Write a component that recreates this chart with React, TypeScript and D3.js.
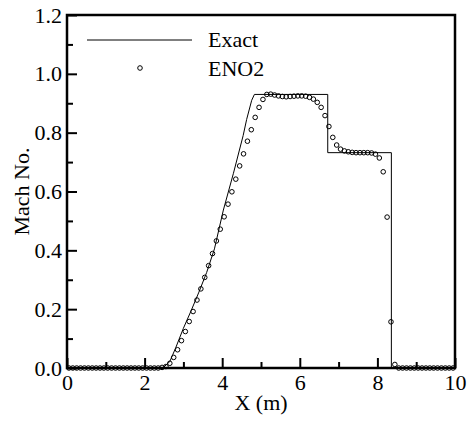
import React, { useEffect, useRef } from 'react';
import * as d3 from 'd3';

// exact solution (piecewise)
const exactX = [0, 2.47, 2.65, 2.8, 3.0, 3.2, 3.4, 3.6, 3.8, 4.03, 4.29, 4.54, 4.63, 4.76, 4.83, 6.72, 6.72, 8.36, 8.36, 10];
const exactM = [0, 0, 0.022, 0.068, 0.135, 0.195, 0.258, 0.325, 0.405, 0.537, 0.662, 0.79, 0.845, 0.91, 0.93, 0.93, 0.732, 0.732, 0, 0];

// ENO2 cell values
const eno2X = [
  0.05, 0.15, 0.25, 0.35, 0.45, 0.55, 0.65, 0.75, 0.85, 0.95,
  1.05, 1.15, 1.25, 1.35, 1.45, 1.55, 1.65, 1.75, 1.85, 1.95,
  2.05, 2.15, 2.25, 2.35, 2.45, 2.55, 2.65, 2.75, 2.85, 2.95,
  3.05, 3.15, 3.25, 3.35, 3.45, 3.55, 3.65, 3.75, 3.85, 3.95,
  4.05, 4.15, 4.25, 4.35, 4.45, 4.55, 4.65, 4.75, 4.85, 4.95,
  5.05, 5.15, 5.25, 5.35, 5.45, 5.55, 5.65, 5.75, 5.85, 5.95,
  6.05, 6.15, 6.25, 6.35, 6.45, 6.55, 6.65, 6.75, 6.85, 6.95,
  7.05, 7.15, 7.25, 7.35, 7.45, 7.55, 7.65, 7.75, 7.85, 7.95,
  8.05, 8.15, 8.25, 8.35, 8.45, 8.55, 8.65, 8.75, 8.85, 8.95,
  9.05, 9.15, 9.25, 9.35, 9.45, 9.55, 9.65, 9.75, 9.85, 9.95,
];
const eno2M = [
  0, 0, 0, 0, 0, 0, 0, 0, 0, 0,
  0, 0, 0, 0, 0, 0, 0, 0, 0, 0,
  0, 0, 0, 0, 0.002, 0.005, 0.016, 0.036, 0.062, 0.093,
  0.124, 0.158, 0.192, 0.231, 0.269, 0.308, 0.348, 0.389, 0.432, 0.472,
  0.514, 0.557, 0.599, 0.642, 0.687, 0.728, 0.771, 0.81, 0.852, 0.886,
  0.913, 0.93, 0.931, 0.928, 0.925, 0.923, 0.922, 0.923, 0.924, 0.925,
  0.925, 0.924, 0.92, 0.914, 0.903, 0.886, 0.858, 0.821, 0.784, 0.758,
  0.744, 0.738, 0.735, 0.733, 0.732, 0.732, 0.732, 0.732, 0.731, 0.727,
  0.714, 0.667, 0.513, 0.157, 0.012, 0, 0, 0, 0, 0,
  0, 0, 0, 0, 0, 0, 0, 0, 0, 0,
];

const xMajor = [0, 2, 4, 6, 8, 10];
const xMinor = [1, 3, 5, 7, 9];
const yMajor = [0, 0.2, 0.4, 0.6, 0.8, 1.0, 1.2];
const yMinor = [0.1, 0.3, 0.5, 0.7, 0.9, 1.1];

const FONT = 'Liberation Serif, Times New Roman, serif';

const MachChart = () => {
  const svgRef = useRef<SVGSVGElement | null>(null);

  useEffect(() => {
    const svg = d3.select(svgRef.current);
    svg.selectAll('*').remove();
    const width = 467;
    const height = 421;
    const margin = { top: 15, right: 12, bottom: 53, left: 67 };
    const innerWidth = width - margin.left - margin.right;
    const innerHeight = height - margin.top - margin.bottom;

    const xScale = d3.scaleLinear().domain([0, 10]).range([0, innerWidth]);
    const yScale = d3.scaleLinear().domain([0, 1.2]).range([innerHeight, 0]);

    svg.attr('width', width).attr('height', height)
      .attr('font-family', FONT).attr('font-size', 22);

    const g = svg.append('g').attr('transform', `translate(${margin.left},${margin.top})`);

    const styleAxis = (sel: any) => {
      sel.attr('font-family', FONT).attr('font-size', 22);
      sel.select('.domain').remove();
      sel.selectAll('line').attr('stroke', '#000').attr('stroke-width', 2);
      sel.selectAll('text').attr('fill', '#000');
    };

    // bottom axis
    g.append('g')
      .attr('transform', `translate(0,${innerHeight})`)
      .call(d3.axisBottom(xScale).tickValues(xMajor).tickSize(-10).tickPadding(6).tickFormat(d3.format('d')))
      .call(styleAxis);
    g.append('g')
      .attr('transform', `translate(0,${innerHeight})`)
      .call(d3.axisBottom(xScale).tickValues(xMinor).tickSize(-6).tickFormat(() => ''))
      .call(styleAxis);

    // left axis
    g.append('g')
      .call(d3.axisLeft(yScale).tickValues(yMajor).tickSize(-10).tickPadding(5).tickFormat(d3.format('.1f')))
      .call(styleAxis);
    g.append('g')
      .call(d3.axisLeft(yScale).tickValues(yMinor).tickSize(-6).tickFormat(() => ''))
      .call(styleAxis);

    // frame
    g.append('rect')
      .attr('x', 0)
      .attr('y', 0)
      .attr('width', innerWidth)
      .attr('height', innerHeight)
      .attr('fill', 'none')
      .attr('stroke', '#000')
      .attr('stroke-width', 2.5);

    const line = d3.line<number>()
      .x((d, i) => xScale(exactX[i]))
      .y(d => yScale(d));

    g.append('path')
      .datum(exactM)
      .attr('fill', 'none')
      .attr('stroke', '#000')
      .attr('stroke-width', 1)
      .attr('d', line);

    g.append('g')
      .selectAll('circle')
      .data(eno2M)
      .join('circle')
      .attr('cx', (d, i) => xScale(eno2X[i]))
      .attr('cy', d => yScale(d))
      .attr('r', 2.3)
      .attr('fill', 'none')
      .attr('stroke', '#000')
      .attr('stroke-width', 1);

    // legend
    const leg = g.append('g');
    leg.append('line')
      .attr('x1', 20).attr('x2', 125)
      .attr('y1', 25).attr('y2', 25)
      .attr('stroke', '#000').attr('stroke-width', 1);
    leg.append('circle')
      .attr('cx', 73).attr('cy', 53).attr('r', 2.3)
      .attr('fill', 'none').attr('stroke', '#000').attr('stroke-width', 1);
    leg.append('text')
      .attr('x', 141).attr('y', 32)
      .text('Exact');
    leg.append('text')
      .attr('x', 141).attr('y', 60.5)
      .text('ENO2');

    // axis titles
    g.append('text')
      .attr('x', innerWidth / 2)
      .attr('y', innerHeight + 42)
      .attr('text-anchor', 'middle')
      .text('X (m)');

    g.append('text')
      .attr('transform', `translate(${29 - margin.left},${innerHeight / 2}) rotate(-90)`)
      .attr('text-anchor', 'middle')
      .text('Mach No.');
  }, []);

  return <svg ref={svgRef} style={{ display: 'block', position: 'absolute', left: 0, top: 0 }}></svg>;
};

export default function App() {
  return (
    <div>
      <MachChart />
    </div>
  );
}
